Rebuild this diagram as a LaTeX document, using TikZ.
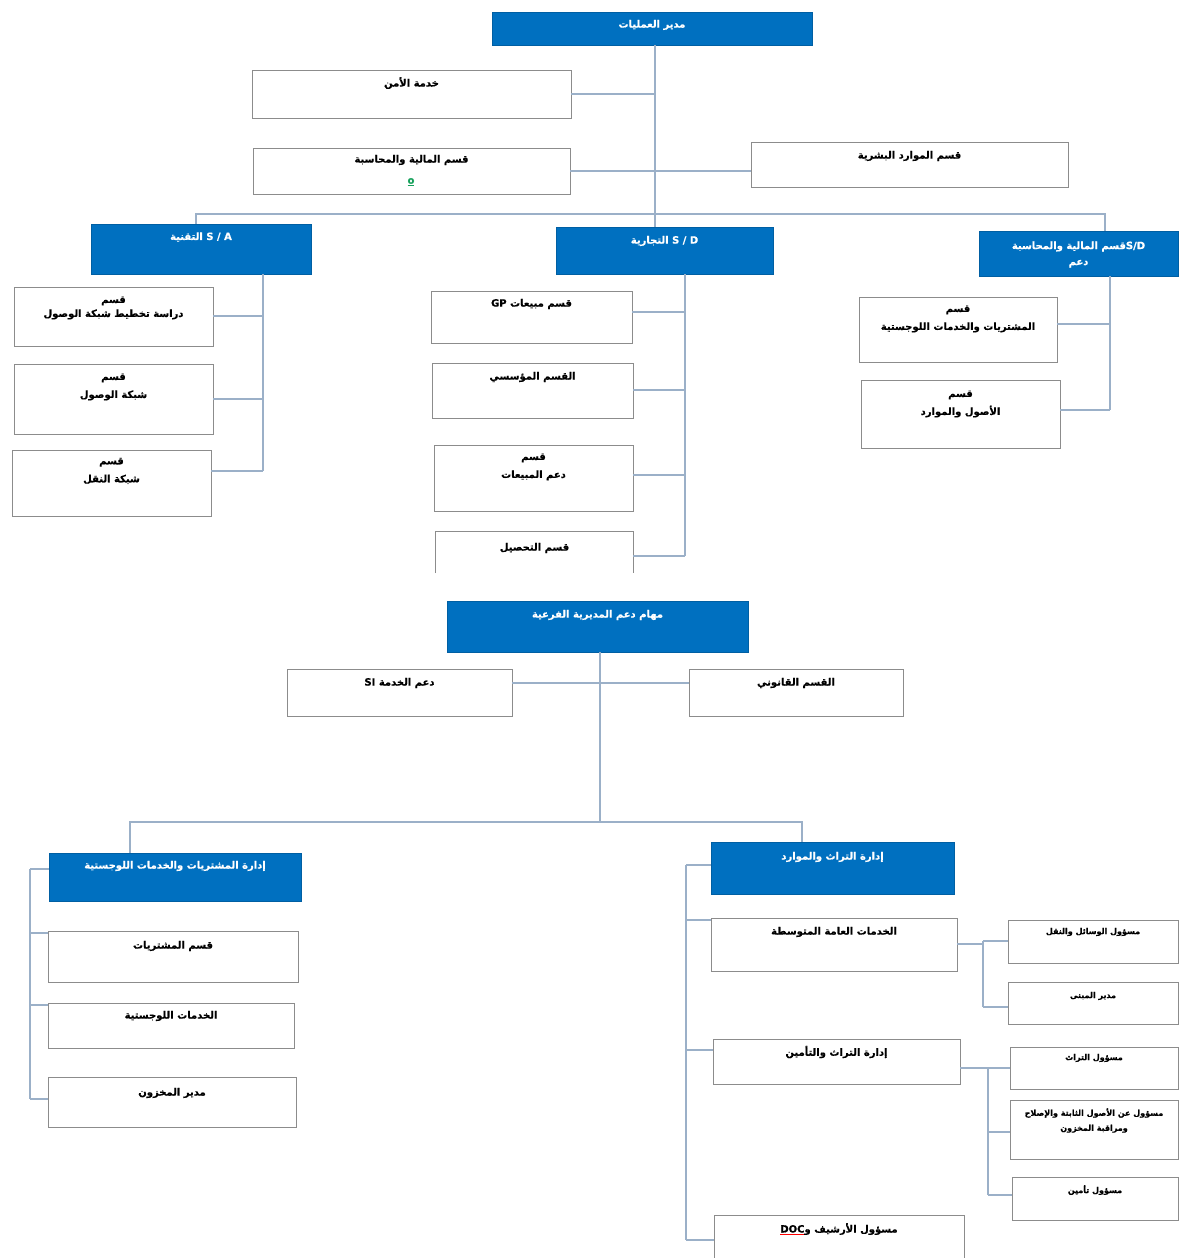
\documentclass[tikz,border=0pt]{standalone}
\usepackage{fontspec}
\usetikzlibrary{calc}
\TeXXeTstate=1
\newfontfamily\arfont[Script=Arabic, BoldFeatures={FakeBold=0.6}]{DejaVu Sans}
\definecolor{hdr}{RGB}{0,112,192}
\definecolor{connc}{RGB}{155,176,200}
\definecolor{okg}{RGB}{20,160,90}
\newcommand\artx[1]{\beginR #1\endR}
\newcommand\latx[1]{\beginL #1\endL}

\tikzset{
  wbox/.style={draw=black!45, line width=0.7pt, fill=white, inner sep=0pt},
  bbox/.style={draw=hdr!85!black, line width=0.5pt, fill=hdr, inner sep=0pt},
  wopen/.style={inner sep=0pt},
  txt/.style={font=\arfont\bfseries\fontsize{10}{18}\selectfont, align=center, inner sep=0pt},
  wboxtext/.style={txt, text=black},
  wopentext/.style={txt, text=black},
  bboxtext/.style={txt, text=white},
  conn/.style={draw=connc, line width=1.8pt},
}

% box from its corners (x1,y1)-(x2,y2), with its text centred at height ytext
\newcommand\orgnode[8]{%
  \node[#2, minimum width={#5-#3}, minimum height={#6-#4}] (#1) at ({(#3+#5)/2},{(#4+#6)/2}) {};
  \node[#2text] (#1-t) at ({(#3+#5)/2},#7) {#8};}

% horizontal link from a side of a box to a vertical bus, shifted up by #4
\newcommand\branch[4]{%
  \draw[conn] let \p1=(#1.#2), \p2=(#3) in (\x1,\y1+#4) -- (\x2,\y1+#4);}

\newcommand\smalltx{\fontsize{8}{14}\selectfont}

\begin{document}
\begin{tikzpicture}[x=1pt,y=-1pt]
\fill[white] (0,0) rectangle (1178,1258);
\useasboundingbox (0,0) rectangle (1178,1258);

% ---------------- upper chart ----------------
\orgnode{top}{bbox}{492}{12}{812}{45}{25}{\artx{مدير العمليات}}
\orgnode{sec}{wbox}{252}{70}{571}{118}{83}{\artx{خدمة الأمن}}
\orgnode{fin}{wbox}{253}{148}{570}{194}{160}{\artx{قسم المالية والمحاسبة}}
\node[txt, text=okg] (fin-o) at (411,182) {\underline{o}};
\orgnode{hr}{wbox}{751}{142}{1068}{187}{156}{\artx{قسم الموارد البشرية}}

\orgnode{sa}{bbox}{91}{224}{311}{274}{237}{\artx{\latx{S / A} التقنية}}
\orgnode{sd}{bbox}{556}{227}{773}{274}{241}{\artx{\latx{S / D} التجارية}}
\orgnode{fsd}{bbox}{979}{231}{1178}{276}{254.5}{\artx{\latx{S/D}قسم المالية والمحاسبة}\\[-2pt]\artx{دعم}}

\orgnode{a1}{wbox}{14}{287}{213}{346}{308}{\artx{قسم}\\[-4pt]\artx{دراسة تخطيط شبكة الوصول}}
\orgnode{a2}{wbox}{14}{364}{213}{434}{387}{\artx{قسم}\\\artx{شبكة الوصول}}
\orgnode{a3}{wbox}{12}{450}{211}{516}{471}{\artx{قسم}\\\artx{شبكة النقل}}

\orgnode{d1}{wbox}{431}{291}{632}{343}{304}{\artx{قسم مبيعات \latx{GP}}}
\orgnode{d2}{wbox}{432}{363}{633}{418}{377}{\artx{القسم المؤسسي}}
\orgnode{d3}{wbox}{434}{445}{633}{511}{467}{\artx{قسم}\\\artx{دعم المبيعات}}
\orgnode{d4}{wopen}{436}{532}{633}{573}{548}{\artx{قسم التحصيل}}
\draw[draw=black!45, line width=0.7pt] (d4.south west) -- (d4.north west) -- (d4.north east) -- (d4.south east);

\orgnode{f1}{wbox}{859}{297}{1057}{362}{319}{\artx{قسم}\\\artx{المشتريات والخدمات اللوجستية}}
\orgnode{f2}{wbox}{861}{380}{1060}{448}{404}{\artx{قسم}\\\artx{الأصول والموارد}}

% links of the upper chart
\coordinate (trunk) at (655,45);
\coordinate (busL) at (196,214);
\coordinate (busR) at (1105,214);
\coordinate (saB) at (263,471);
\coordinate (sdB) at (685,556);
\coordinate (fB) at (1110,410);
\draw[conn] (top.south -| trunk) -- (sd.north -| trunk);
\draw[conn] (sec.east) -- (sec.east -| trunk);
\draw[conn] (fin.east) -- (fin.east -| hr.west);
\draw[conn] (sa.north -| busL) -- (busL) -- (busR) -- (fsd.north -| busR);
\draw[conn] (sa.south -| saB) -- (saB);
\draw[conn] (sd.south -| sdB) -- (sdB);
\draw[conn] (fsd.south -| fB) -- (fB);
\branch{a1}{east}{saB}{0.5pt}
\branch{a2}{east}{saB}{0pt}
\branch{a3}{east}{saB}{12pt}
\branch{d1}{east}{sdB}{5pt}
\branch{d2}{east}{sdB}{0.5pt}
\branch{d3}{east}{sdB}{3pt}
\branch{d4}{east}{sdB}{-3.5pt}
\branch{f1}{east}{fB}{5.5pt}
\branch{f2}{east}{fB}{4pt}

% ---------------- lower chart ----------------
\orgnode{sub}{bbox}{447}{601}{748}{652}{615}{\artx{مهام دعم المديرية الفرعية}}
\orgnode{si}{wbox}{287}{669}{512}{716}{683}{\artx{دعم الخدمة \latx{SI}}}
\orgnode{legal}{wbox}{689}{669}{903}{716}{683}{\artx{القسم القانوني}}

\orgnode{pl}{bbox}{49}{853}{301}{901}{866}{\artx{إدارة المشتريات والخدمات اللوجستية}}
\orgnode{p1}{wbox}{48}{931}{298}{982}{946}{\artx{قسم المشتريات}}
\orgnode{p2}{wbox}{48}{1003}{294}{1048}{1016}{\artx{الخدمات اللوجستية}}
\orgnode{p3}{wbox}{48}{1077}{296}{1127}{1093}{\artx{مدير المخزون}}

\orgnode{hm}{bbox}{711}{842}{954}{894}{857}{\artx{إدارة التراث والموارد}}
\orgnode{h1}{wbox}{711}{918}{957}{971}{932}{\artx{الخدمات العامة المتوسطة}}
\orgnode{h2}{wbox}{713}{1039}{960}{1084}{1052}{\artx{إدارة التراث والتأمين}}
\orgnode{h3}{wbox}{714}{1215}{964}{1258}{1229}{\artx{مسؤول الأرشيف و\latx{{\color{red}\underline{\textcolor{black}{DOC}}}}}}

\orgnode{r1}{wbox}{1008}{920}{1178}{963}{932}{\smalltx\artx{مسؤول الوسائل والنقل}}
\orgnode{r2}{wbox}{1008}{982}{1178}{1024}{996}{\smalltx\artx{مدير المبنى}}
\orgnode{r3}{wbox}{1010}{1047}{1178}{1089}{1058}{\smalltx\artx{مسؤول التراث}}
\orgnode{r4}{wbox}{1010}{1100}{1178}{1159}{1120.5}{\smalltx\artx{مسؤول عن الأصول الثابتة والإصلاح}\\[-3pt]\smalltx\artx{ومراقبة المخزون}}
\orgnode{r5}{wbox}{1012}{1177}{1178}{1220}{1190}{\smalltx\artx{مسؤول تأمين}}

% links of the lower chart
\coordinate (trunk2) at (600,652);
\coordinate (bus2L) at (130,822);
\coordinate (bus2R) at (802,822);
\coordinate (plT) at (30,869);
\coordinate (plB) at (30,1099);
\coordinate (hmT) at (686,865);
\coordinate (hmB) at (686,1240);
\coordinate (h1T) at (983,941);
\coordinate (h1B) at (983,1007);
\coordinate (h2T) at (988,1068);
\coordinate (h2B) at (988,1195);
\draw[conn] (sub.south -| trunk2) -- (bus2L -| trunk2);
\draw[conn] (pl.north -| bus2L) -- (bus2L) -- (bus2R) -- (hm.north -| bus2R);
\branch{si}{east}{legal.west}{9.5pt}
\draw[conn] (plT) -- (plB);
\draw[conn] (hmT) -- (hmB);
\draw[conn] (h1T) -- (h1B);
\draw[conn] (h2T) -- (h2B);
\branch{pl}{west}{plT}{8pt}
\branch{p1}{west}{plT}{23.5pt}
\branch{p2}{west}{plT}{20.5pt}
\branch{p3}{west}{plT}{3pt}
\branch{hm}{west}{hmT}{3pt}
\branch{h1}{west}{hmT}{24.5pt}
\branch{h2}{west}{hmT}{11.5pt}
\branch{h3}{west}{hmT}{-3.5pt}
\branch{h1}{east}{h1T}{0.5pt}
\branch{r1}{west}{h1T}{0.5pt}
\branch{r2}{west}{h1T}{-4pt}
\branch{h2}{east}{h2T}{-6.5pt}
\branch{r3}{west}{h2T}{0pt}
\branch{r4}{west}{h2T}{-2.5pt}
\branch{r5}{west}{h2T}{3.5pt}
\end{tikzpicture}
\end{document}
